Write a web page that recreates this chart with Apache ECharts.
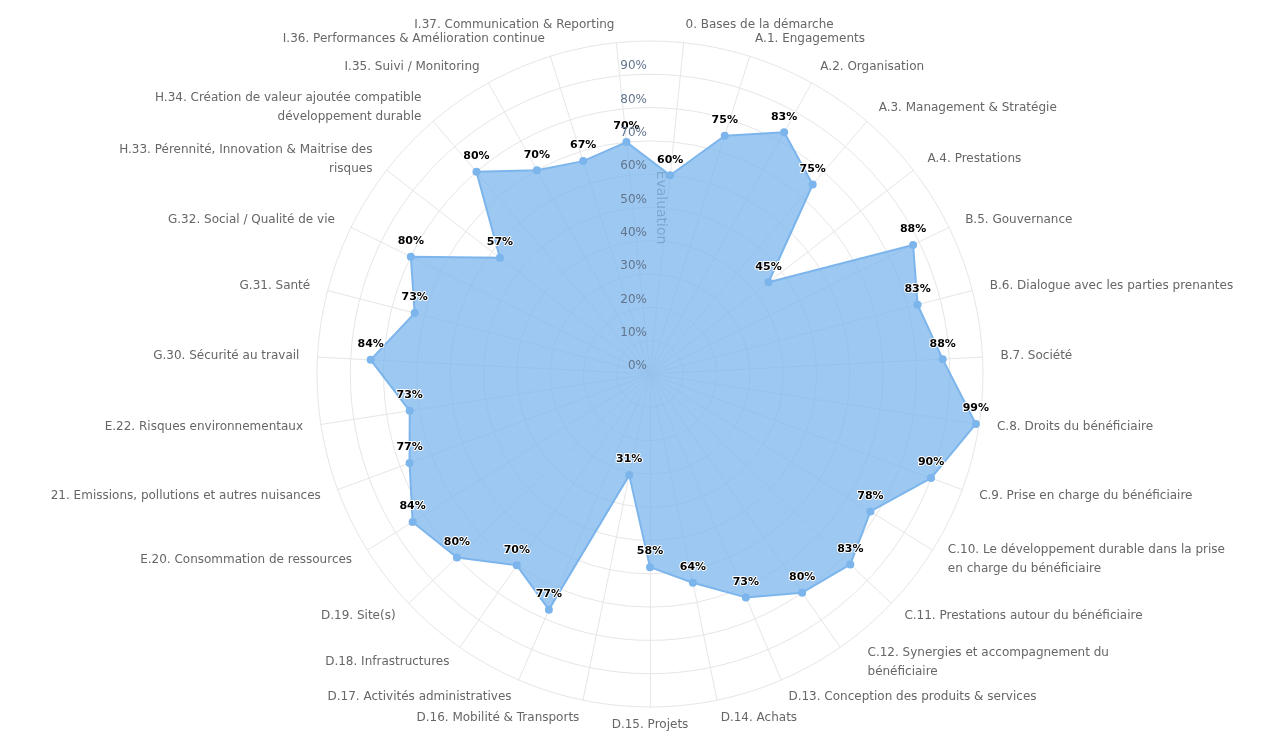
<!DOCTYPE html>
<html>
<head>
<meta charset="utf-8">
<script src="https://cdn.jsdelivr.net/npm/echarts@6/dist/echarts.min.js"></script>
<style>
html,body{margin:0;padding:0;background:#fff;}
#c{width:1268px;height:731px;}
</style>
</head>
<body>
<div id="c"></div>
<script>
// Categories in clockwise order starting just right of top
const categories = [
  "0. Bases de la démarche",
  "A.1. Engagements",
  "A.2. Organisation",
  "A.3. Management & Stratégie",
  "A.4. Prestations",
  "B.5. Gouvernance",
  "B.6. Dialogue avec les parties prenantes",
  "B.7. Société",
  "C.8. Droits du bénéficiaire",
  "C.9. Prise en charge du bénéficiaire",
  "C.10. Le développement durable dans la prise\nen charge du bénéficiaire",
  "C.11. Prestations autour du bénéficiaire",
  "C.12. Synergies et accompagnement du\nbénéficiaire",
  "D.13. Conception des produits & services",
  "D.14. Achats",
  "D.15. Projets",
  "D.16. Mobilité & Transports",
  "D.17. Activités administratives",
  "D.18. Infrastructures",
  "D.19. Site(s)",
  "E.20. Consommation de ressources",
  "21. Emissions, pollutions et autres nuisances",
  "E.22. Risques environnementaux",
  "G.30. Sécurité au travail",
  "G.31. Santé",
  "G.32. Social / Qualité de vie",
  "H.33. Pérennité, Innovation & Maitrise des\nrisques",
  "H.34. Création de valeur ajoutée compatible\ndéveloppement durable",
  "I.35. Suivi / Monitoring",
  "I.36. Performances & Amélioration continue",
  "I.37. Communication & Reporting"
];
const evaluation = [60, 75, 83, 75, 45, 88, 83, 88, 99, 90, 78, 83, 80, 73, 64, 58, 31, 77, 70, 80, 84, 77, 73, 84, 73, 80, 57, 80, 70, 67, 70];
const yTicks = [0, 10, 20, 30, 40, 50, 60, 70, 80, 90];
const seriesName = "Evaluation";

// ECharts radar runs counter-clockwise: reverse order (keeping first) to draw clockwise
const n = categories.length;
const order = [0];
for (let i = n - 1; i >= 1; i--) order.push(i);
const indicator = order.map(i => ({ name: categories[i], min: 0, max: 100 }));
const values = order.map(i => evaluation[i]);
const step = 360 / n;

const FONT = 'DejaVu Sans';
const shifted = categories[12];
const chart = echarts.init(document.getElementById('c'), null, { renderer: 'canvas' });
chart.setOption({
  backgroundColor: '#ffffff',
  animation: false,
  textStyle: { fontFamily: FONT },
  radar: {
    center: [650, 374],
    radius: 333,
    startAngle: 90 - step / 2,
    shape: 'circle',
    splitNumber: 10,
    indicator: indicator,
    axisName: {
      color: '#666666', fontSize: 12, fontFamily: FONT, lineHeight: 19, verticalAlign: 'middle',
      formatter: function (name) {
        if (name === shifted) {
          return name.split('\n').map(s => '{s|' + s + '}').join('\n');
        }
        return name;
      },
      rich: { s: { color: '#666666', fontSize: 12, fontFamily: FONT, lineHeight: 19, padding: [0, 0, 0, 17] } }
    },
    nameGap: 18,
    axisLine: { lineStyle: { color: '#e6e6e6', width: 1 } },
    splitLine: { lineStyle: { color: '#e6e6e6', width: 1 } },
    splitArea: { show: false },
    axisTick: { show: false },
    axisLabel: { show: false }
  },
  grid: { left: 650, width: 1, top: 41, height: 333, containLabel: false },
  xAxis: { type: 'value', show: false },
  yAxis: [
    {
      type: 'value', min: 0, max: 100, interval: 10, position: 'left', z: 10,
      axisLine: { show: false }, axisTick: { show: false }, splitLine: { show: false },
      axisLabel: {
        color: '#62748c', fontSize: 12, fontFamily: FONT, margin: 3,
        verticalAlign: 'bottom', padding: [0, 0, 2, 0],
        formatter: v => (yTicks.indexOf(v) >= 0 ? v + '%' : '')
      }
    },
    {
      type: 'value', min: 0, max: 100, position: 'right', z: 0,
      name: seriesName, nameLocation: 'middle', nameRotate: -90, nameGap: 3,
      nameTextStyle: { color: '#777777', fontSize: 14, fontFamily: FONT },
      axisLine: { show: false }, axisTick: { show: false }, splitLine: { show: false },
      axisLabel: { show: false }
    }
  ],
  series: [{
    type: 'radar',
    name: seriesName,
    z: 2,
    symbol: 'circle',
    symbolSize: 8,
    itemStyle: { color: '#7cb5ec' },
    lineStyle: { color: '#7cb5ec', width: 2 },
    areaStyle: { color: '#7cb5ec', opacity: 0.75 },
    label: {
      show: true, position: 'top', distance: 6,
      color: '#000000', fontWeight: 'bold', fontSize: 11, fontFamily: FONT,
      textBorderColor: '#ffffff', textBorderWidth: 2,
      formatter: p => p.value + '%'
    },
    data: [{ value: values, name: seriesName }]
  }]
});
</script>
</body>
</html>
